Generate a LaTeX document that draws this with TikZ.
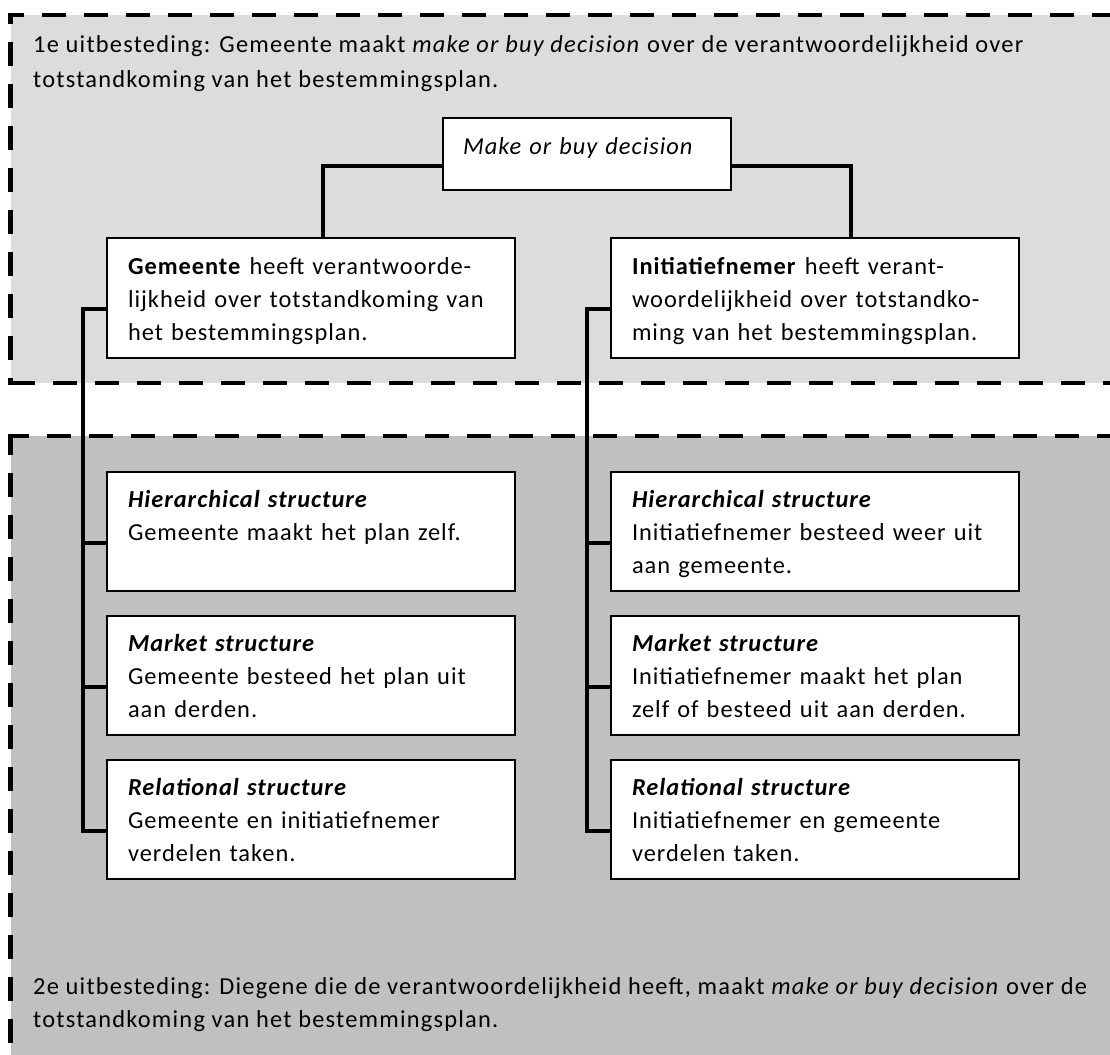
\documentclass[tikz,border=0pt]{standalone}
\usepackage{fontspec}
\setmainfont{Carlito}[LetterSpace=4.0]
\newfontfamily\titlefont{Carlito}[LetterSpace=5.0]
\definecolor{topgray}{RGB}{220,220,220}
\definecolor{botgray}{RGB}{192,192,192}
\begin{document}
\begin{tikzpicture}[x=1pt,y=-1pt,
  font=\fontsize{24.4pt}{33pt}\selectfont,
  dashline/.style={line width=4.5pt, dash pattern=on 24pt off 18pt},
  conn/.style={line width=3.3pt},
  box/.style={draw, line width=2pt, fill=white, anchor=north west, outer sep=0pt,
    inner xsep=21pt, inner ysep=0pt, text width=366pt, align=left,
    text height=35pt, text depth=84pt},
  topbox/.style={box, text height=36pt},
  titletext/.style={anchor=base west, align=left, inner sep=0pt}]
\useasboundingbox (0,0) rectangle (1110,1054);
% regions
\fill[topgray] (10.5,15) rectangle (1115,383);
\fill[botgray] (10.5,436) rectangle (1115,1060);
\draw[dashline, dash phase=8pt] (8,15) -- (1120,15);
\draw[dashline, dash phase=13pt] (10.5,13) -- (10.5,385);
\draw[dashline, dash phase=39pt] (8,383) -- (1120,383);
\draw[dashline, dash phase=3pt] (8,436) -- (1120,436);
\draw[dashline, dash phase=3pt] (10.5,434) -- (10.5,1060);
% titles (base anchor = baseline of the last line)
\node[titletext, font=\titlefont\fontsize{24.4pt}{35pt}\selectfont] (t1) at (33,88) {1e uitbesteding: Gemeente maakt \textit{make or buy decision} over de verantwoordelijkheid over\\totstandkoming van het bestemmingsplan.};
\node[titletext, font=\titlefont\fontsize{24.4pt}{33pt}\selectfont] (t2) at (33,1027) {2e uitbesteding: Diegene die de verantwoordelijkheid heeft, maakt \textit{make or buy decision} over de\\totstandkoming van het bestemmingsplan.};
% boxes
\node[box, inner xsep=20pt, text width=248pt, text height=36pt, text depth=36pt] (make) at (443,118) {\textit{Make or buy decision}};
\node[topbox] (gem) at (107,238) {\textbf{Gemeente} heeft verantwoorde-\\lijkheid over totstandkoming van\\het bestemmingsplan.};
\node[topbox] (init) at (611,238) {\textbf{Initiatiefnemer} heeft verant-\\woordelijkheid over totstandko-\\ming van het bestemmingsplan.};
\node[box] (lhier) at (107,472) {\textbf{\textit{Hierarchical structure}}\\Gemeente maakt het plan zelf.};
\node[box] (lmark) at (107,616) {\textbf{\textit{Market structure}}\\Gemeente besteed het plan uit\\aan derden.};
\node[box] (lrel) at (107,760) {\textbf{\textit{Relational structure}}\\Gemeente en initiatiefnemer\\verdelen taken.};
\node[box] (rhier) at (611,472) {\textbf{\textit{Hierarchical structure}}\\Initiatiefnemer besteed weer uit\\aan gemeente.};
\node[box] (rmark) at (611,616) {\textbf{\textit{Market structure}}\\Initiatiefnemer maakt het plan\\zelf of besteed uit aan derden.};
\node[box] (rrel) at (611,760) {\textbf{\textit{Relational structure}}\\Initiatiefnemer en gemeente\\verdelen taken.};
% connectors
\draw[conn] ([yshift=-48pt]make.north west) -| ([xshift=216pt]gem.north west);
\draw[conn] ([yshift=-48pt]make.north east) -| ([xshift=240pt]init.north west);
\draw[conn] ([yshift=-71pt]gem.north west) -- ++(-24pt,0) |- ([yshift=-71pt]lrel.north west);
\draw[conn] ([yshift=-71pt]lhier.north west) -- ++(-24pt,0);
\draw[conn] ([yshift=-71pt]lmark.north west) -- ++(-24pt,0);
\draw[conn] ([yshift=-71pt]init.north west) -- ++(-24pt,0) |- ([yshift=-71pt]rrel.north west);
\draw[conn] ([yshift=-71pt]rhier.north west) -- ++(-24pt,0);
\draw[conn] ([yshift=-71pt]rmark.north west) -- ++(-24pt,0);
\end{tikzpicture}
\end{document}
